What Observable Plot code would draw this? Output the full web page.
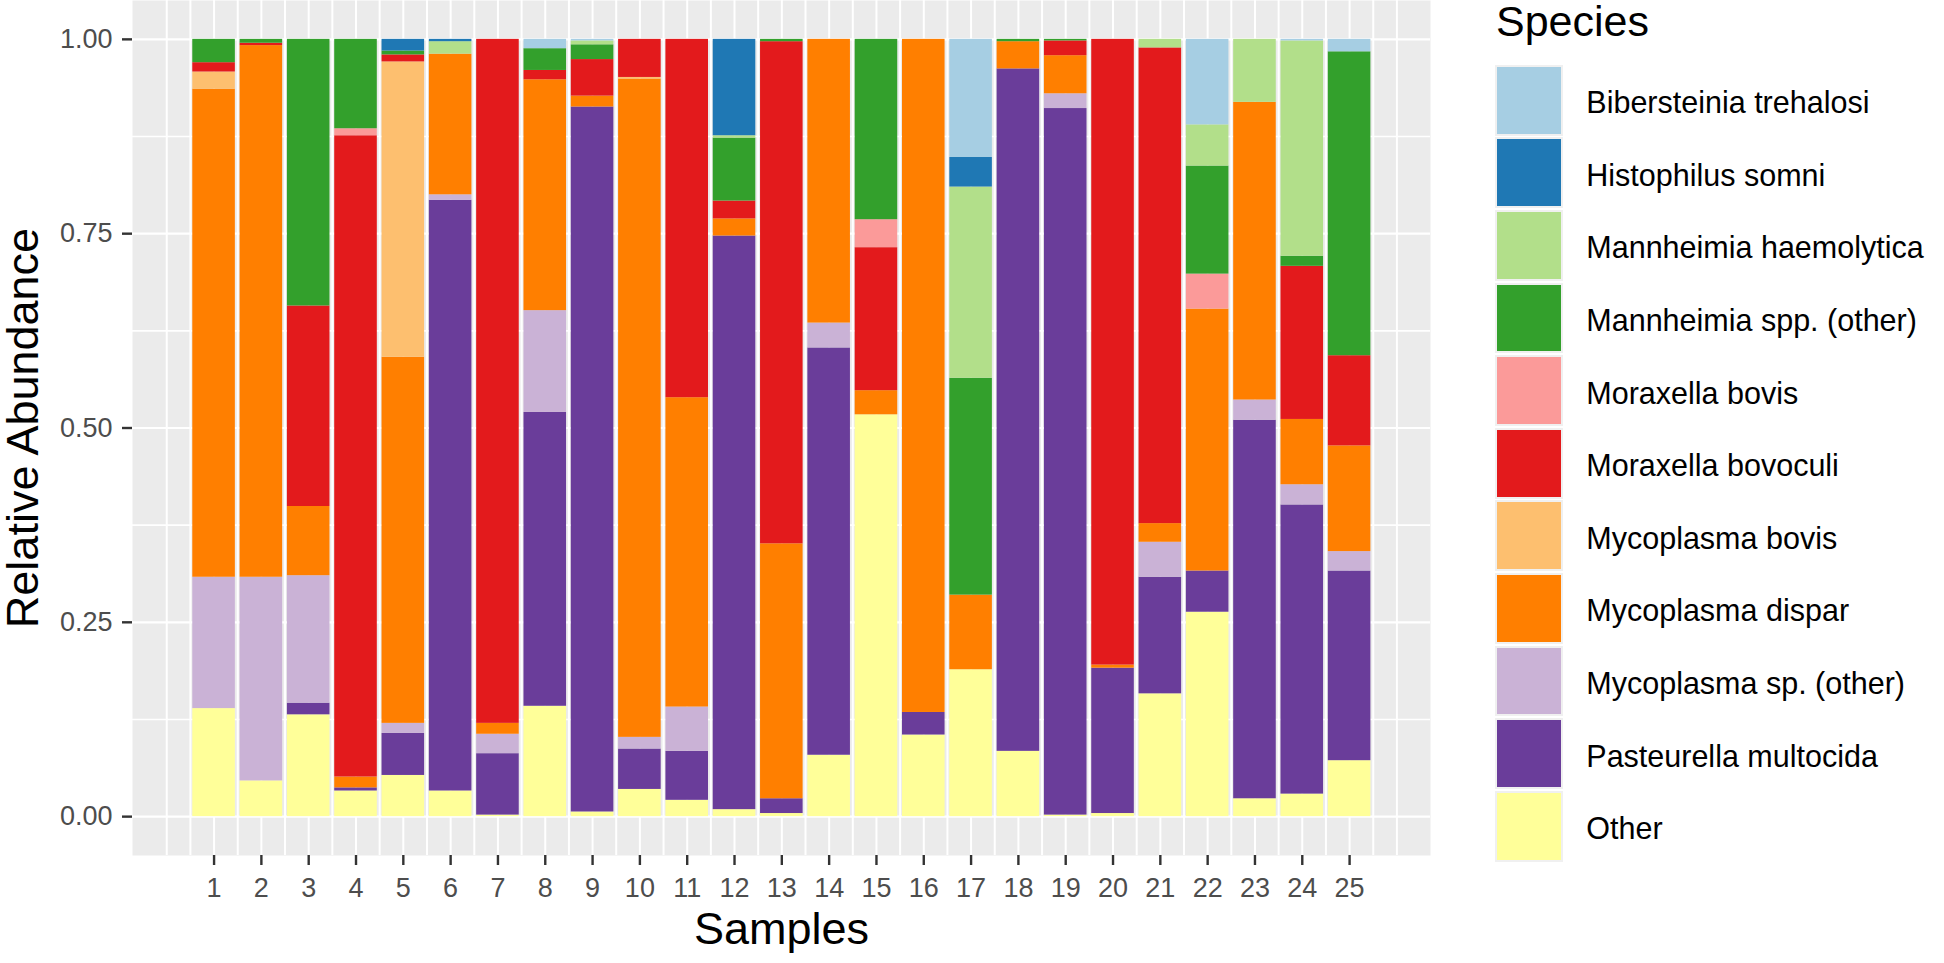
<!DOCTYPE html>
<html>
<head>
<meta charset="utf-8">
<script src="https://cdn.jsdelivr.net/npm/d3@7"></script>
<script src="https://cdn.jsdelivr.net/npm/@observablehq/plot@0.6"></script>
<style>
  html, body { margin: 0; padding: 0; background: #fff; overflow: hidden; }
  body { font-family: "Liberation Sans", Arial, Helvetica, sans-serif; }
  #wrap { position: relative; width: 1944px; height: 963px; }
  #chart { position: absolute; left: 0; top: 0; }
  #legend { position: absolute; left: 0; top: 0; width: 1944px; height: 963px; pointer-events: none; }
  .lg-title { position: absolute; left: 1496px; top: 0px; font-size: 43px; line-height: 43px; color: #000; }
  .lg-row { position: absolute; left: 1494.5px; height: 71px; display: flex; align-items: center; }
  .lg-key { width: 64.3px; height: 66.7px; border: 2px solid #F0F0F0; box-sizing: content-box; }
  .lg-label { margin-left: 23.5px; padding-top: 5px; font-size: 30.5px; color: #000; white-space: nowrap; }
</style>
</head>
<body>
<div id="wrap"><div id="chart"></div><div id="legend"></div></div>
<script>
// ---- Data ----
const samples = [1,2,3,4,5,6,7,8,9,10,11,12,13,14,15,16,17,18,19,20,21,22,23,24,25];

// Legend order (top of legend = top of stack)
const species = [
  "Bibersteinia trehalosi",
  "Histophilus somni",
  "Mannheimia haemolytica",
  "Mannheimia spp. (other)",
  "Moraxella bovis",
  "Moraxella bovoculi",
  "Mycoplasma bovis",
  "Mycoplasma dispar",
  "Mycoplasma sp. (other)",
  "Pasteurella multocida",
  "Other"
];
const colors = ["#A6CEE3","#1F78B4","#B2DF8A","#33A02C","#FB9A99","#E31A1C","#FDBF6F","#FF7F00","#CAB2D6","#6A3D9A","#FFFF99"];

// Relative abundance per species, samples 1..25
const bibersteiniaTrehalosi = [0,0,0,0,0,0,0,.012,.002,0,0,0,0,0,0,0,.152,0,0,0,0,.110,0,.002,.016];
const histophilusSomni      = [0,0,0,0,.015,.003,0,0,0,0,0,.124,0,0,0,0,.038,0,0,0,0,0,0,0,0];
const mannheimiaHaemolytica = [0,0,0,0,0,.016,0,0,.005,0,0,.003,0,0,0,0,.246,0,0,0,.011,.053,.081,.277,0];
const mannheimiaOther       = [.030,.005,.343,.115,.005,0,0,.028,.019,0,0,.081,.003,0,.232,0,.279,.003,.002,0,0,.139,0,.013,.391];
const moraxellaBovis        = [0,0,0,.009,0,0,0,0,0,0,0,0,0,0,.036,0,0,0,0,0,0,.045,0,0,0];
const moraxellaBovoculi     = [.012,.003,.258,.825,.009,0,.880,.012,.047,.049,.461,.023,.646,0,.184,0,0,0,.019,.805,.612,0,0,.197,.116];
const mycoplasmaBovis       = [.022,0,0,0,.380,0,0,0,0,.002,0,0,0,0,0,0,0,0,0,0,0,0,0,0,0];
const mycoplasmaDispar      = [.628,.684,.089,.014,.471,.181,.014,.297,.014,.847,.398,.022,.328,.365,.031,.866,.096,.035,.049,.004,.024,.337,.383,.084,.136];
const mycoplasmaOther       = [.169,.262,.164,0,.013,.007,.025,.131,0,.015,.057,0,0,.032,0,0,0,0,.019,0,.045,0,.026,.026,.025];
const pasteurellaMultocida  = [0,0,.015,.004,.054,.760,.079,.378,.907,.052,.063,.738,.019,.524,0,.029,0,.878,.909,.187,.150,.053,.487,.372,.244];
const other                 = [.139,.046,.131,.033,.053,.033,.002,.142,.006,.035,.021,.009,.004,.079,.517,.105,.189,.084,.002,.004,.158,.263,.023,.029,.072];

const seriesValues = [
  bibersteiniaTrehalosi, histophilusSomni, mannheimiaHaemolytica, mannheimiaOther,
  moraxellaBovis, moraxellaBovoculi, mycoplasmaBovis, mycoplasmaDispar,
  mycoplasmaOther, pasteurellaMultocida, other
];

const yBreaks = [0, 0.25, 0.5, 0.75, 1];
const yMinor = [0.125, 0.375, 0.625, 0.875];
const xGrid = d3.range(0, 26.01, 0.5);

// Long table, bottom of stack first (ggplot puts first level on top)
const table = [];
for (let s = species.length - 1; s >= 0; s--) {
  samples.forEach((smp, i) => {
    table.push({sample: smp, species: species[s], value: seriesValues[s][i]});
  });
}

const FONT = '"Liberation Sans", Arial, Helvetica, sans-serif';

const chart = Plot.plot({
  width: 1944,
  height: 963,
  marginLeft: 132,
  marginRight: 514,
  marginTop: 0,
  marginBottom: 108,
  style: {fontFamily: FONT, background: "transparent", overflow: "visible"},
  x: {type: "linear", domain: [-0.724, 26.71]},
  y: {domain: [-0.05, 1.05]},
  color: {domain: species, range: colors},
  marks: [
    Plot.frame({fill: "#EBEBEB", stroke: null}),
    Plot.ruleY(yMinor, {stroke: "white", strokeWidth: 1.6}),
    Plot.ruleY(yBreaks, {stroke: "white", strokeWidth: 2.2}),
    Plot.ruleX(xGrid, {stroke: "white", strokeWidth: 2}),
    Plot.rectY(table, Plot.stackY({
      x1: d => d.sample - 0.45,
      x2: d => d.sample + 0.45,
      y: "value",
      fill: "species"
    })),
    Plot.axisX(samples, {
      tickFormat: d => String(d),
      tickSize: 10, tickPadding: 12,
      fontSize: 27, fill: "#4D4D4D", stroke: "#333333", strokeWidth: 2.4,
      label: null
    }),
    Plot.axisY(yBreaks, {
      tickFormat: d3.format(".2f"),
      tickSize: 10, tickPadding: 10,
      fontSize: 27, fill: "#4D4D4D", stroke: "#333333", strokeWidth: 2.4,
      label: null
    }),
    Plot.text(["Samples"], {frameAnchor: "bottom", textAnchor: "middle", lineAnchor: "bottom", dy: 88, fontSize: 45, fill: "#000"}),
    Plot.text(["Relative Abundance"], {frameAnchor: "left", textAnchor: "middle", rotate: -90, lineAnchor: "bottom", dx: -95, fontSize: 45, fill: "#000"})
  ]
});
document.getElementById("chart").appendChild(chart);

// ---- Legend ----
const legend = d3.select("#legend");
legend.append("div").attr("class", "lg-title").text("Species");
species.forEach((sp, i) => {
  const row = legend.append("div").attr("class", "lg-row").style("top", (64.7 + i * 72.6) + "px");
  row.append("div").attr("class", "lg-key").style("background", colors[i]);
  row.append("div").attr("class", "lg-label").text(sp);
});
</script>
</body>
</html>
